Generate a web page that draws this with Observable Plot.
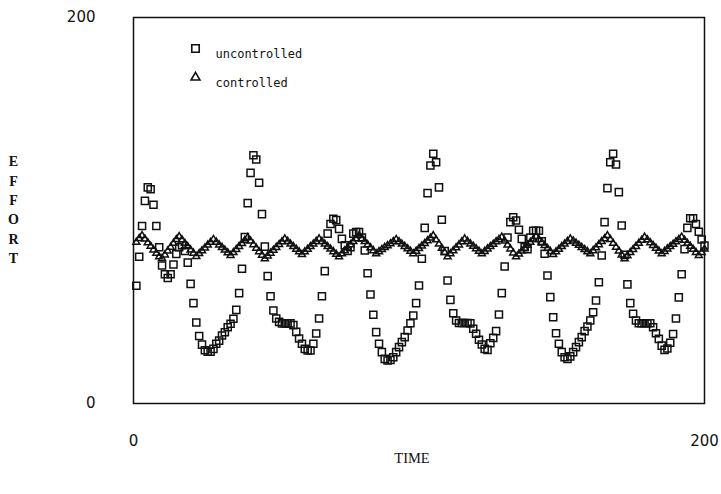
<!DOCTYPE html>
<html><head><meta charset="utf-8">
<script src="https://cdn.jsdelivr.net/npm/d3@7"></script>
<script src="https://cdn.jsdelivr.net/npm/@observablehq/plot@0.6"></script>
<style>body{margin:0;background:#fff}</style>
</head><body><div id="chart"></div>
<script>
// time steps 1..200
const time = d3.range(1, 201);
const uncontrolled = [
61,76,92,105,112,111,103,92,81,71.5,
67,65,67,72,77.5,81,82,79,73,62,
52,42,35,30.5,27.6,26.8,26.8,28.3,31,32.6,
35.2,36.9,39.5,41.3,43.9,48.5,57.2,69.8,86.2,103.8,
119.5,128.6,126.4,114.4,98.1,81.3,66,55.6,48.2,44,
42.3,41.5,41.5,41.5,41.5,40.6,37.1,33.7,31,28.3,
27.5,27.5,31,36.3,44,55.6,68.6,88,93,95.7,
95,90.5,85.3,82,79,81,88,88.8,88.8,86,
79.3,67.5,56.5,46,37,31,26.6,23.1,22.3,22.5,
24,26.6,29.2,31.8,34.4,37.8,41.6,45.6,52,61.1,
75,91,109,123.3,129.4,125,112,95.2,79,63.7,
53.7,46.8,43,41.7,41.7,41.7,41.7,41.5,38.7,36.1,
33,30.6,28.3,27.8,31.2,34,37.5,46.1,57.2,71,
86,94,96.5,94.8,90,85.3,81,80,86,89.5,
89.5,89.5,84,77.6,66.3,55.1,44.7,36.4,31,26.6,
24,23.1,24.4,26.6,29.2,31.8,34.4,37.5,39.9,43,
47.3,53.4,62.8,76.7,94,111.6,125,129.4,123.8,109.5,
92.2,77,61.7,52,46.5,43,41.6,41.6,41.6,41.6,
41.6,39.5,36.4,33.5,30,27.8,28.5,31.5,36,44,
55,67,80,91,96,96,93,89,85,81.9
];
const controlled = [
83.5,85.5,87,85.2,83.3,81.5,79.6,77.8,76,75.2,
77,79,81,83,85,86.5,84.8,83,81.3,79.6,
77.9,76.2,77.7,79.1,80.6,82.1,83.5,85,83.6,82.2,
80.9,79.5,78.1,76.7,78.2,79.8,81.4,82.9,84.5,86,
84.2,82.3,80.5,78.7,76.8,75,76.5,77.9,79.4,80.9,
82.4,83.8,85.3,84,82.6,81.3,79.9,78.6,77.2,78.6,
79.9,81.3,82.6,84,85.3,84,82.6,81.3,80,78.7,
77.3,76,77.6,79.1,80.7,82.3,83.9,85.4,87,85.4,
83.9,82.3,80.7,79.2,77.6,78.7,79.8,80.9,81.8,82.8,
83.9,85,83.8,82.6,81.4,80.2,78.9,77.6,78.9,80.3,
81.6,82.9,84.3,85.7,87,84.8,82.6,80.4,78.2,76,
77.6,79.1,80.7,82.2,83.8,85.3,84,82.7,81.5,80.2,
78.9,77.6,78.8,80.1,81.3,82.5,83.8,85,86.2,84.2,
82.1,80.1,78,76,77.5,79,80.5,82,83.5,85,
86.5,85,83.4,81.9,80.3,78.8,77.2,78.6,79.9,81.3,
82.6,84,85.3,84.2,83.1,82,80.9,79.8,78.7,77.6,
79.2,80.7,82.3,83.9,85.4,87,85,83,81,79,
77,75,76.6,78.2,79.8,81.4,83,84.6,86.2,84.8,
83.3,81.9,80.5,79,77.6,78.8,80.1,81.3,82.5,83.8,
85,86.2,84.6,83,81.5,79.9,78.3,76.7,78.3,80
];
const xTicks = [0, 200];
const yTicks = [0, 200];
const legendLabels = ["uncontrolled", "controlled"];
const xLabel = "TIME";
const yLabel = "EFFORT";

const data = time.map((t, i) => ({t, u: uncontrolled[i], c: controlled[i]}));
const ink = "#111";

const chart = Plot.plot({
  width: 721, height: 494,
  marginLeft: 133, marginRight: 17, marginTop: 17, marginBottom: 91,
  x: {domain: [0, 200]},
  y: {domain: [0, 200]},
  style: {background: "white", color: ink},
  marks: [
    Plot.frame({stroke: ink, strokeWidth: 1.5}),
    Plot.axisX({ticks: xTicks, tickSize: 0, tickPadding: 32, fontSize: 15, fontFamily: "DejaVu Sans", label: null, tickFormat: d => String(d)}),
    Plot.axisY({ticks: yTicks, tickSize: 0, tickPadding: 38, fontSize: 15, fontFamily: "DejaVu Sans", label: null, tickFormat: d => String(d)}),
    Plot.dot(data, {x: "t", y: "c", symbol: "triangle", r: 2.6, stroke: ink, strokeWidth: 1.5, fill: "none"}),
    Plot.dot(data, {x: "t", y: "u", symbol: "square", r: 4, stroke: ink, strokeWidth: 1.5, fill: "none"}),
    // legend
    Plot.dot([legendLabels[0]], {frameAnchor: "top-left", dx: 62, dy: 31, symbol: "square", r: 4.2, stroke: ink, strokeWidth: 1.6, fill: "none"}),
    Plot.dot([legendLabels[1]], {frameAnchor: "top-left", dx: 62, dy: 60, symbol: "triangle", r: 3.3, stroke: ink, strokeWidth: 1.6, fill: "none"}),
    Plot.text([legendLabels[0]], {frameAnchor: "top-left", dx: 82, dy: 32, textAnchor: "start", fontFamily: "DejaVu Sans Mono", fontSize: 12, fill: ink}),
    Plot.text([legendLabels[1]], {frameAnchor: "top-left", dx: 82, dy: 61, textAnchor: "start", fontFamily: "DejaVu Sans Mono", fontSize: 12, fill: ink}),
    // axis titles
    Plot.text([xLabel], {frameAnchor: "bottom", dx: -7, dy: 59, fontFamily: "Liberation Serif", fontSize: 14.5, fill: ink}),
    Plot.text([yLabel.split("").join("\n")], {frameAnchor: "left", dx: -120, dy: -2, textAnchor: "middle", lineAnchor: "middle", lineHeight: 1.38, fontFamily: "Liberation Serif", fontWeight: "bold", fontSize: 14, fill: ink})
  ]
});
document.getElementById("chart").appendChild(chart);
</script>
</body></html>
